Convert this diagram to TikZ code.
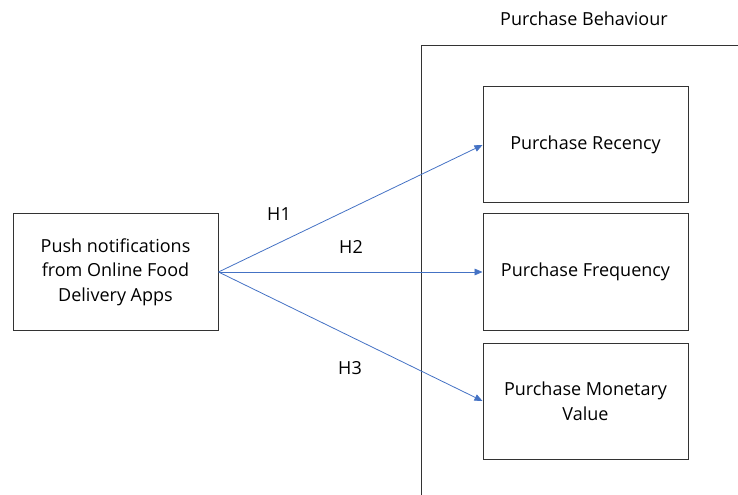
\documentclass[tikz,border=0pt]{standalone}
\usepackage{fontspec}
\setmainfont{Open Sans}
\usepackage{xcolor}
\usetikzlibrary{arrows.meta}
\definecolor{linkblue}{RGB}{68,114,196}

\begin{document}
\begin{tikzpicture}[
  x=0.75pt, y=-0.75pt,
  box/.style={draw=black!80, line width=0.75pt, minimum width=153.75pt, minimum height=87pt,
              align=center, inner sep=0pt, font=\fontsize{13.5}{18.5}\selectfont},
  link/.style={draw=linkblue, line width=0.6pt, -{Triangle[length=6pt,width=5pt]}},
  hyp/.style={font=\fontsize{13.5}{16}\selectfont},
]
\useasboundingbox (0,0) rectangle (738,495);
\node[box] (push) at (115.5,272) {Push notifications\\from Online Food\\Delivery Apps};
\node[box] (rec) at (585.5,145) {Purchase Recency};
\node[box] (freq) at (585.5,272) {Purchase Frequency};
\node[box] (mon) at (585.5,401) {Purchase Monetary\\Value};
\draw[black!80, line width=0.75pt] (421,495) -- (421,46) -- (738,46);
\node[hyp] (beh) at (584,19) {Purchase Behaviour};
\draw[link] (push.east) -- (rec.west);
\draw[link] (push.east) -- (freq.west);
\draw[link] (push.east) -- (mon.west);
\node[hyp] (h1) at (279,214) {H1};
\node[hyp] (h2) at (351,247) {H2};
\node[hyp] (h3) at (350,368) {H3};
\end{tikzpicture}
\end{document}
